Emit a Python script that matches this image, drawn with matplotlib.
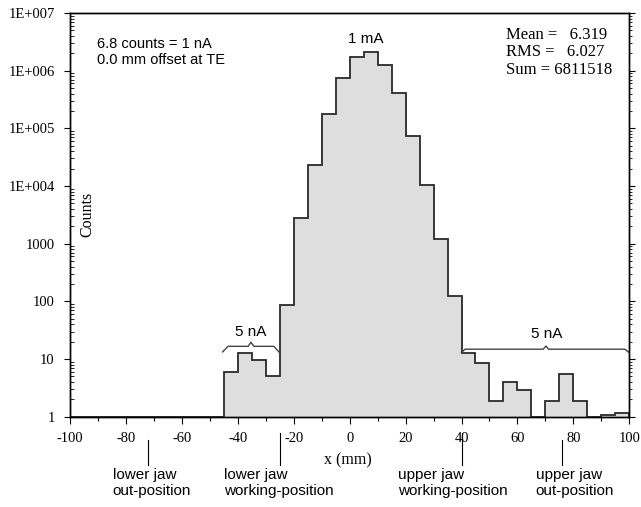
import numpy as np
import matplotlib
matplotlib.use("Agg")
from matplotlib import pyplot as plt
from matplotlib import ticker

# bin edges every 5 mm from -100 to 100
edges = np.arange(-100, 105, 5)
counts = [0, 0, 0, 0, 0, 0, 0, 0, 0, 0, 0,
          5.9, 12.6, 9.8, 5.0, 86,
          2840, 23000, 174000, 740000, 1700000, 2070000, 1270000, 410000,
          74000, 10600, 1220, 125,
          12.7, 8.6, 1.9, 4.0, 2.9, 0, 1.9, 5.4, 1.9, 0, 1.05, 1.14]

y_ticks = [1, 10, 100, 1000, 1e4, 1e5, 1e6, 1e7]
y_ticklabels = ['1', '10', '100', '1000', '1E+004', '1E+005', '1E+006', '1E+007']
x_ticks = np.arange(-100, 120, 20)

# jaw positions (mm) and labels below the axis
jaw_pos = [-72, -25, 40, 76]
jaw_labels = ['lower jaw\nout-position', 'lower jaw\nworking-position',
              'upper jaw\nworking-position', 'upper jaw\nout-position']

stats_text = 'Mean =   6.319\nRMS =   6.027\nSum = 6811518'
info_text = '6.8 counts = 1 nA\n0.0 mm offset at TE'

serif = 'Liberation Serif'
sans = 'Liberation Sans'

fig = plt.figure(figsize=(6.41, 5.07), dpi=100)
ax = fig.add_axes([70 / 641, 90.3 / 507, 559.3 / 641, 403.7 / 507])

vals = np.array(counts, dtype=float)
outline = np.where(vals > 0, vals, 1.0)
ax.stairs(outline, edges, baseline=1, fill=True, color='#dedede', lw=0)
ax.stairs(outline, edges, baseline=1, color='#2a2a2a', lw=1.3)

ax.set_yscale('log')
ax.set_ylim(1, 1e7)
ax.set_xlim(-100, 100)

ax.set_yticks(y_ticks)
ax.set_yticklabels(y_ticklabels, fontfamily=serif, fontsize=10.5)
ax.yaxis.set_minor_locator(ticker.LogLocator(base=10, subs=np.arange(2, 10)))
ax.yaxis.set_minor_formatter(ticker.NullFormatter())
ax.tick_params(axis='y', which='major', direction='out', length=4, width=0.8, pad=7)
ax.tick_params(axis='y', which='minor', direction='in', length=3, width=0.6)

ax.set_xticks(x_ticks)
ax.set_xticklabels([str(v) for v in x_ticks], fontfamily=serif, fontsize=10.5)
ax.xaxis.set_minor_locator(ticker.MultipleLocator(10))
ax.tick_params(axis='x', which='major', direction='out', length=5, width=0.8, pad=6)
ax.tick_params(axis='x', which='minor', direction='out', length=3, width=0.8)

# right side ticks
ax2 = ax.twinx()
ax2.set_yscale('log')
ax2.set_ylim(1, 1e7)
ax2.set_yticks(y_ticks)
ax2.yaxis.set_minor_locator(ticker.LogLocator(base=10, subs=np.arange(2, 10)))
ax2.yaxis.set_major_formatter(ticker.NullFormatter())
ax2.yaxis.set_minor_formatter(ticker.NullFormatter())
ax2.tick_params(axis='y', which='major', direction='out', length=4, width=0.8)
ax2.tick_params(axis='y', which='minor', direction='out', length=2.5, width=0.6)

for a in (ax, ax2):
    for s in a.spines.values():
        s.set_linewidth(1.0)

ax.set_xlabel('x (mm)', fontfamily=serif, fontsize=11.5)
ax.xaxis.set_label_coords(0.497, -0.088)
ax.text(0.031, 0.5, 'Counts', rotation=90, transform=ax.transAxes,
        ha='center', va='center', fontfamily=serif, fontsize=11.5)

# annotations
ax.text(0.048, 0.94, info_text, transform=ax.transAxes, ha='left', va='top',
        fontfamily=sans, fontsize=10.5, linespacing=1.15)
ax.text(0.78, 0.965, stats_text, transform=ax.transAxes, ha='left', va='top',
        fontfamily=serif, fontsize=12, linespacing=1.1)
ax.text(5.8, 3.5e6, '1 mA', ha='center', va='center', fontfamily=sans, fontsize=11)

# brackets
lb_x = [-45.4, -43.5, -36.3, -35.3, -34.2, -27.1, -25.3]
lb_y = [13.3, 16.6, 16.6, 19.5, 16.6, 16.6, 13.3]
ax.plot(lb_x, lb_y, color='#444444', lw=1.0)
ax.text(-35.3, 29.5, '5 nA', ha='center', va='center', fontfamily=sans, fontsize=11)

rb_x = [40.0, 41.2, 69.2, 70.2, 71.1, 98.4, 100]
rb_y = [12.9, 14.8, 14.8, 16.8, 14.8, 14.8, 12.9]
ax.plot(rb_x, rb_y, color='#444444', lw=1.0, clip_on=False)
ax.text(70.4, 27, '5 nA', ha='center', va='center', fontfamily=sans, fontsize=11)

# jaw markers below the axis
for xp, lab in zip(jaw_pos, jaw_labels):
    top = -0.04 if 'working' in lab else -0.057
    ax.plot([xp, xp], [top, -0.12], color='black', lw=0.8,
            transform=ax.get_xaxis_transform(), clip_on=False)
for xp, lab in zip([-84.8, -45, 17.2, 66.5], jaw_labels):
    ax.text(xp, -0.126, lab, transform=ax.get_xaxis_transform(), ha='left', va='top',
            fontfamily=sans, fontsize=11, linespacing=1.2)

fig.savefig('out.png', dpi=100)
